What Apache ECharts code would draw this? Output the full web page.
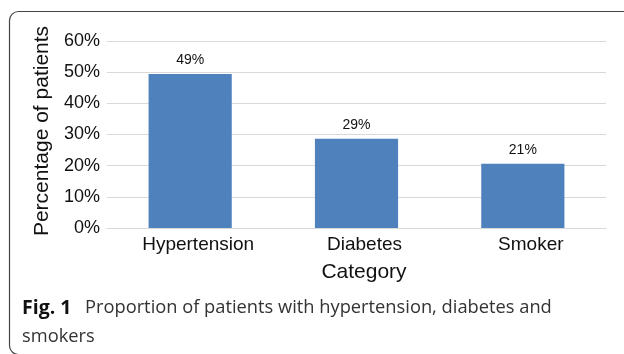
<!DOCTYPE html>
<html>
<head>
<meta charset="utf-8">
<script src="https://cdn.jsdelivr.net/npm/echarts@6/dist/echarts.min.js"></script>
<style>
html,body{margin:0;padding:0;background:#fff;}
#chart{width:624px;height:354px;}
</style>
</head>
<body>
<div id="chart"></div>
<script>
const categories = ['Hypertension', 'Diabetes', 'Smoker'];
const values = [49.4, 28.6, 20.6];
const labels = ['49%', '29%', '21%'];
const yTicks = [0, 10, 20, 30, 40, 50, 60];
const captionBold = 'Fig. 1';
const captionLine1 = 'Proportion of patients with hypertension, diabetes and';
const captionLine2 = 'smokers';

const chart = echarts.init(document.getElementById('chart'), null, {renderer: 'canvas'});
const FONT = '"Liberation Sans", Arial, sans-serif';
chart.setOption({
  animation: false,
  backgroundColor: '#ffffff',
  grid: {left: 107, right: 18, top: 41, bottom: 126, containLabel: false},
  xAxis: {
    type: 'category',
    data: categories,
    name: 'Category',
    nameLocation: 'middle',
    nameGap: 34,
    nameTextStyle: {fontFamily: FONT, fontSize: 21, color: '#111', padding: [0, 0, 0, 15]},
    axisLine: {show: true, lineStyle: {color: '#d9d9d9', width: 1}},
    axisTick: {show: false},
    axisLabel: {fontFamily: FONT, fontSize: 19, color: '#111', margin: 7, padding: [0, 0, 0, 16]}
  },
  yAxis: {
    type: 'value',
    min: yTicks[0],
    max: yTicks[yTicks.length - 1],
    interval: 10,
    name: 'Percentage of patients',
    nameLocation: 'middle',
    nameGap: 53,
    nameTextStyle: {fontFamily: FONT, fontSize: 21, color: '#111', padding: [0, 0, 0, 7]},
    axisLine: {show: false},
    axisTick: {show: false},
    splitLine: {lineStyle: {color: '#d9d9d9', width: 1}},
    axisLabel: {fontFamily: FONT, fontSize: 18, color: '#111', margin: 7,
      formatter: v => v + '%'}
  },
  series: [{
    type: 'bar',
    data: values,
    barWidth: '50%',
    itemStyle: {color: '#4f81bd'},
    label: {
      show: true,
      position: 'top',
      distance: 7,
      fontFamily: FONT,
      fontSize: 14,
      color: '#111',
      formatter: p => labels[p.dataIndex]
    }
  }],
  graphic: [
    {type: 'rect', left: 7, top: 9, z: 10,
      shape: {width: 640, height: 343, r: 9},
      style: {fill: 'none', stroke: '#444', lineWidth: 1.2}},
    {type: 'text', left: 22, top: 298, z: 10,
      style: {text: captionBold, font: 'bold 19.5px "Open Sans", sans-serif', fill: '#111'}},
    {type: 'text', left: 85, top: 299, z: 10,
      style: {text: captionLine1, font: '18.3px "Open Sans", sans-serif', fill: '#333'}},
    {type: 'text', left: 22, top: 328, z: 10,
      style: {text: captionLine2, font: '18.3px "Open Sans", sans-serif', fill: '#333'}}
  ]
});
</script>
</body>
</html>
